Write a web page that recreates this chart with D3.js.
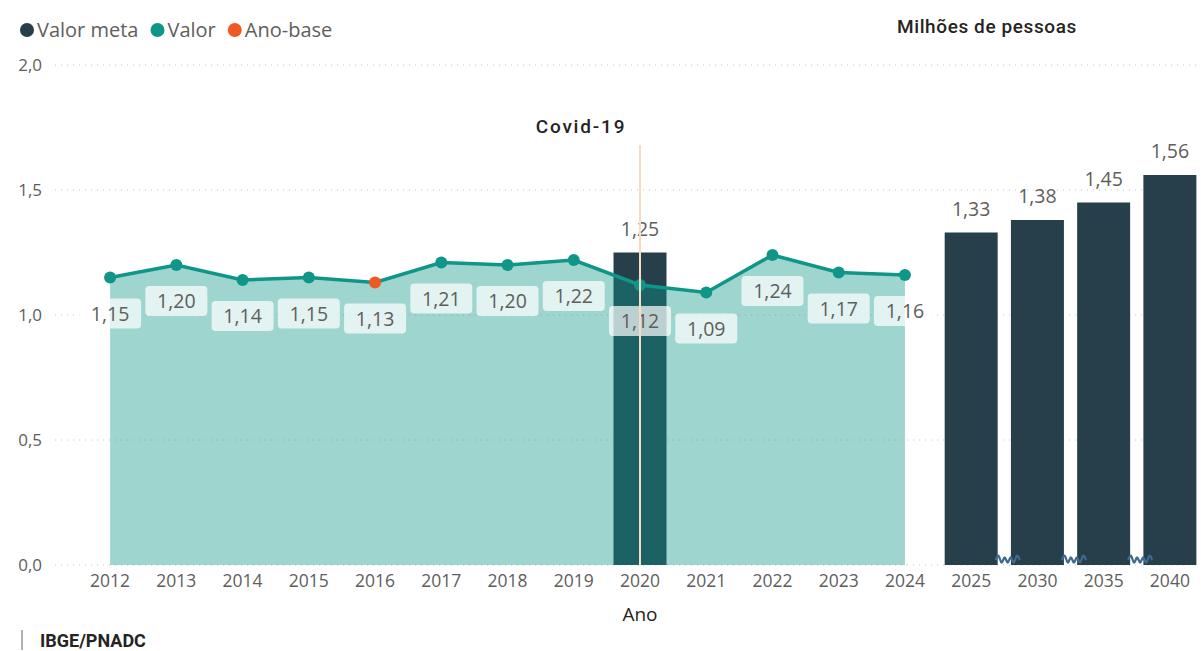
<!DOCTYPE html>
<html>
<head>
<meta charset="utf-8">
<script src="https://cdn.jsdelivr.net/npm/d3@7"></script>
<style>
  body { margin: 0; background: #fff; }
  text { font-family: "Open Sans", "Noto Sans", sans-serif; }
  .title { font-family: Roboto, "DejaVu Sans", sans-serif; font-weight: 500; fill: #252423; }
</style>
</head>
<body>
<script>
// categories on the x axis
var anos = ["2012", "2013", "2014", "2015", "2016", "2017", "2018", "2019", "2020", "2021", "2022", "2023", "2024", "2025", "2030", "2035", "2040"];

// observed series (Valor)
var valorAnos = ["2012", "2013", "2014", "2015", "2016", "2017", "2018", "2019", "2020", "2021", "2022", "2023", "2024"];
var valor = [1.15, 1.20, 1.14, 1.15, 1.13, 1.21, 1.20, 1.22, 1.12, 1.09, 1.24, 1.17, 1.16];

// target bars (Valor meta)
var metaAnos = ["2020", "2025", "2030", "2035", "2040"];
var meta = [1.25, 1.33, 1.38, 1.45, 1.56];

var anoBase = "2016";
var yTicks = [0, 0.5, 1.0, 1.5, 2.0];

var width = 1201, height = 651;
var cMeta = "#263f4b", cValor = "#0f9688", cBase = "#f05a22", cGrey = "#605e5c";
var fmt = function(v, n) { return v.toFixed(n).replace(".", ","); };

var x = d3.scaleBand().domain(anos).range([77, 1203]).paddingInner(0.2).paddingOuter(0.1);
var xc = function(a) { return x(a) + x.bandwidth() / 2; };
var y = d3.scaleLinear().domain([0, 2]).range([565, 65]);

var svg = d3.select("body").append("svg")
  .attr("width", width)
  .attr("height", height);

// grid
svg.append("g").selectAll("line")
  .data(yTicks)
  .enter().append("line")
  .attr("x1", 55).attr("x2", 1200)
  .attr("y1", function(d) { return y(d); })
  .attr("y2", function(d) { return y(d); })
  .attr("stroke", "#c8c6c4")
  .attr("stroke-width", 1)
  .attr("stroke-dasharray", "1,5");

// y axis labels
svg.append("g").selectAll("text")
  .data(yTicks)
  .enter().append("text")
  .attr("x", 42)
  .attr("y", function(d) { return y(d); })
  .attr("dy", "0.35em")
  .attr("text-anchor", "end")
  .style("font-size", "17px")
  .style("fill", cGrey)
  .text(function(d) { return fmt(d, 1); });

// x axis labels
var xAxis = d3.axisBottom(x).tickSize(0).tickPadding(10);
var gx = svg.append("g")
  .attr("transform", "translate(0," + y(0) + ")")
  .call(xAxis);
gx.select(".domain").remove();
gx.selectAll("text")
  .style("font-family", "'Open Sans', 'Noto Sans', sans-serif")
  .style("font-size", "17.5px")
  .style("fill", cGrey);

svg.append("text")
  .attr("x", xc("2020"))
  .attr("y", 621)
  .attr("text-anchor", "middle")
  .style("font-size", "19px")
  .style("fill", "#252423")
  .text("Ano");

// meta bars
var metaData = metaAnos.map(function(a, i) { return { ano: a, v: meta[i] }; });
svg.append("g").selectAll("rect")
  .data(metaData)
  .enter().append("rect")
  .attr("x", function(d) { return x(d.ano); })
  .attr("width", x.bandwidth())
  .attr("y", function(d) { return y(d.v); })
  .attr("height", function(d) { return y(0) - y(d.v); })
  .attr("fill", cMeta);

svg.append("g").selectAll("text")
  .data(metaData)
  .enter().append("text")
  .attr("x", function(d) { return xc(d.ano); })
  .attr("y", function(d) { return y(d.v) - 17; })
  .attr("text-anchor", "middle")
  .style("font-size", "19.5px")
  .style("fill", cGrey)
  .text(function(d) { return fmt(d.v, 2); });

// axis breaks between the projection bars
var breaks = metaAnos.slice(1, -1).map(function(a) { return x(a) + x.bandwidth(); });
var wave = d3.line().curve(d3.curveBasis);
svg.append("g").selectAll("path")
  .data(breaks)
  .enter().append("path")
  .attr("d", function(bx) {
    var pts = [];
    for (var i = 0; i <= 8; i++) {
      var amp = (i === 0 || i === 8) ? 0 : 8;
      pts.push([bx - 2 + i * 3, y(0) - 5 + (i % 2 ? -amp : amp)]);
    }
    return wave(pts);
  })
  .attr("fill", "none")
  .attr("stroke", "#3f6a8e")
  .attr("stroke-width", 2.2);

// valor area + line
var valorData = valorAnos.map(function(a, i) { return { ano: a, v: valor[i] }; });
svg.append("path")
  .datum(valorData)
  .attr("d", d3.area()
    .x(function(d) { return xc(d.ano); })
    .y0(y(0))
    .y1(function(d) { return y(d.v); }))
  .attr("fill", cValor)
  .attr("fill-opacity", 0.4);

// data labels for valor
var labels = svg.append("g").selectAll("g")
  .data(valorData)
  .enter().append("g")
  .attr("transform", function(d) { return "translate(" + xc(d.ano) + "," + (y(d.v) + 36) + ")"; });
labels.append("rect")
  .attr("x", -31).attr("y", -15)
  .attr("width", 62).attr("height", 30)
  .attr("rx", 4)
  .attr("fill", "#fff")
  .attr("fill-opacity", 0.7);
labels.append("text")
  .attr("text-anchor", "middle")
  .attr("dy", "0.36em")
  .style("font-size", "19.5px")
  .style("fill", cGrey)
  .text(function(d) { return fmt(d.v, 2); });

svg.append("path")
  .datum(valorData)
  .attr("d", d3.line()
    .x(function(d) { return xc(d.ano); })
    .y(function(d) { return y(d.v); }))
  .attr("fill", "none")
  .attr("stroke", cValor)
  .attr("stroke-width", 3.5);

svg.append("g").selectAll("circle")
  .data(valorData)
  .enter().append("circle")
  .attr("cx", function(d) { return xc(d.ano); })
  .attr("cy", function(d) { return y(d.v); })
  .attr("r", 6)
  .attr("fill", function(d) { return d.ano === anoBase ? cBase : cValor; });

// covid marker
svg.append("line")
  .attr("x1", xc("2020")).attr("x2", xc("2020"))
  .attr("y1", 145).attr("y2", y(0))
  .attr("stroke", "#f9dcc0")
  .attr("stroke-width", 2);
svg.append("text")
  .attr("class", "title")
  .attr("x", xc("2020") - 59)
  .attr("y", 133)
  .attr("text-anchor", "middle")
  .style("font-size", "19px")
  .style("letter-spacing", "1.8px")
  .text("Covid-19");

// legend
var legend = [["Valor meta", cMeta], ["Valor", cValor], ["Ano-base", cBase]];
var lx = 20;
legend.forEach(function(l) {
  svg.append("circle").attr("cx", lx + 7).attr("cy", 30).attr("r", 7).attr("fill", l[1]);
  var t = svg.append("text")
    .attr("x", lx + 17).attr("y", 30).attr("dy", "0.35em")
    .style("font-size", "20px")
    .style("fill", cGrey)
    .text(l[0]);
  lx += 17 + t.node().getComputedTextLength() + 12;
});

svg.append("text")
  .attr("class", "title")
  .attr("x", 897).attr("y", 33)
  .style("font-size", "19px")
  .style("letter-spacing", "0.6px")
  .text("Milhões de pessoas");

// source
svg.append("rect").attr("x", 21).attr("y", 630).attr("width", 2).attr("height", 20).attr("fill", "#b3b0ad");
svg.append("text")
  .attr("class", "title")
  .attr("x", 40).attr("y", 647)
  .style("font-size", "18px")
  .style("font-weight", "700")
  .text("IBGE/PNADC");
</script>
</body>
</html>
